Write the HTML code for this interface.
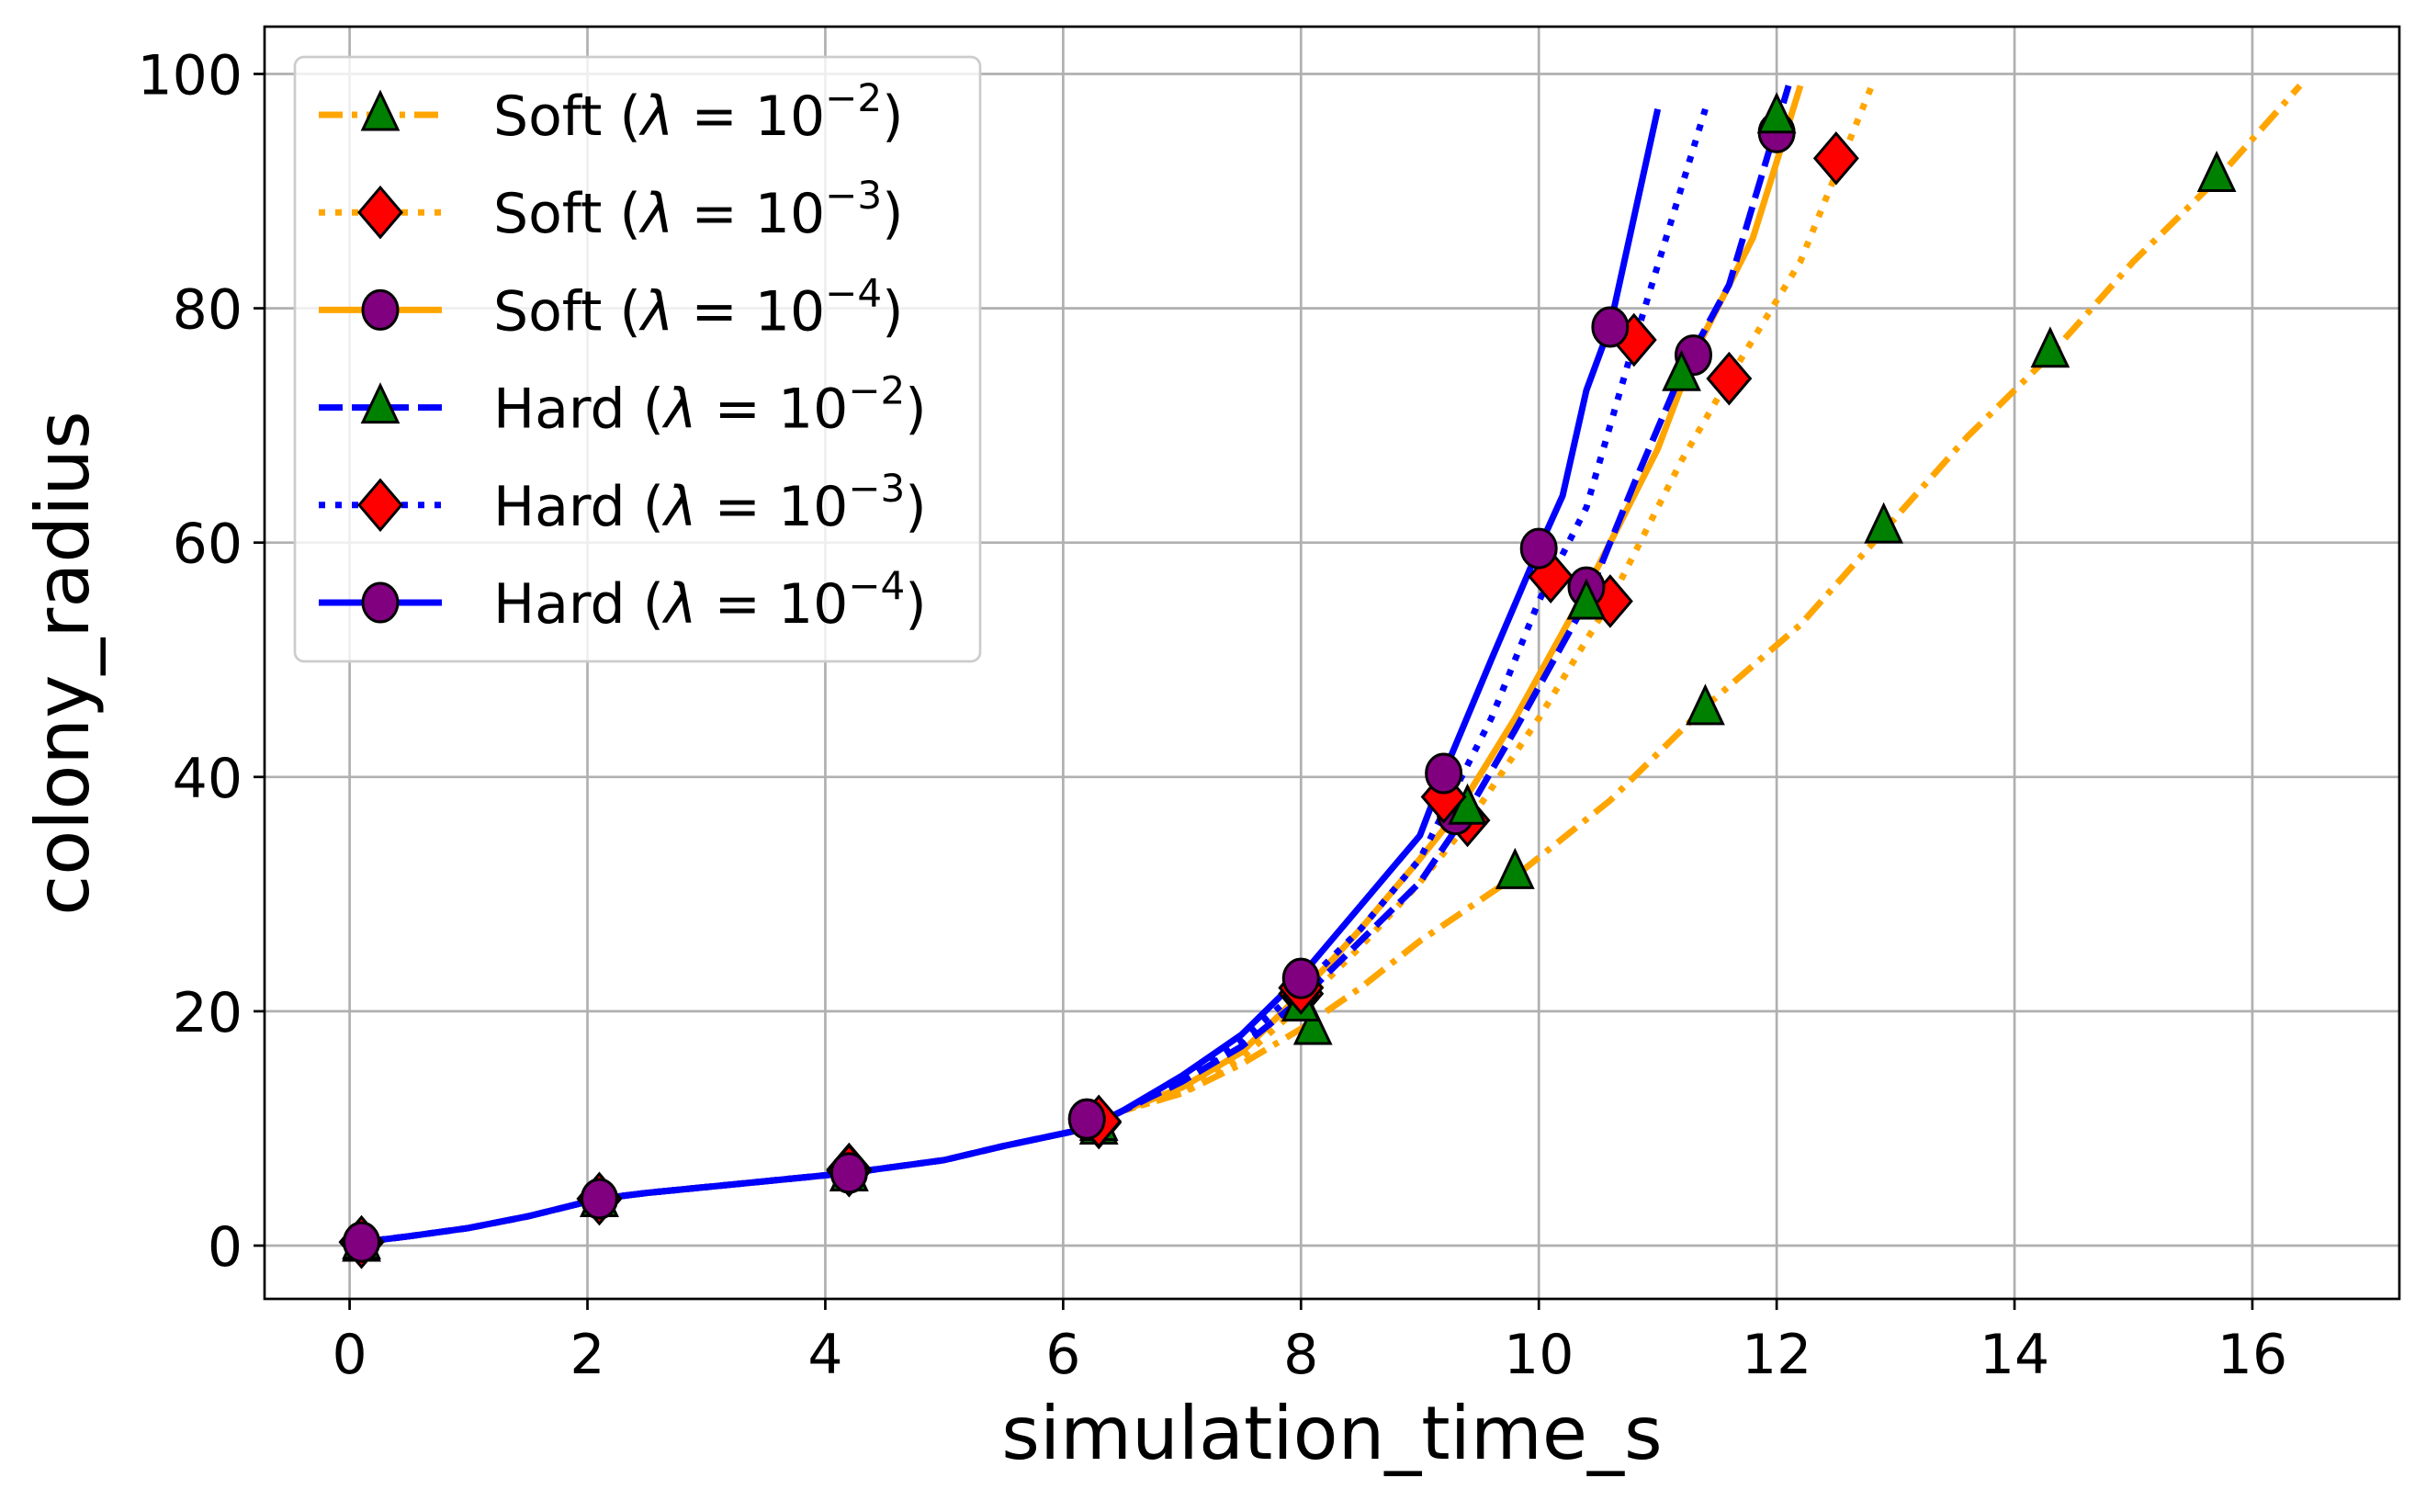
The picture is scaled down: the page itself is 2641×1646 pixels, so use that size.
<!DOCTYPE html>
<html><head><meta charset="utf-8"><style>
html,body{margin:0;padding:0;background:#fff}
svg text{font-family:"DejaVu Sans","Liberation Sans",sans-serif;fill:#000}
</style></head><body>
<svg id="chart" width="2641" height="1641" viewBox="0 0 2641 1641" xmlns="http://www.w3.org/2000/svg">
<rect x="0" y="0" width="2641" height="1641" fill="#fff"/>
<g id="grid"></g>
<g id="series"></g>
<g id="axes"></g>
<g id="legend"></g>
</svg>
<script>
const xTicks = [0,2,4,6,8,10,12,14,16];
const yTicks = [0,20,40,60,80,100];
const seriesNames = ["Soft-2","Soft-3","Soft-4","Hard-2","Hard-3","Hard-4"];
const early = [[0.1,0.3],[0.5,0.8],[1,1.5],[1.5,2.5],[2.1,4],[2.5,4.5],[3,5],[3.5,5.5],[4.2,6.2],[5,7.3],[5.5,8.5],[6.2,10],[6.5,11.5]];
const soft2Line = [[7,13],[7.5,15.5],[8,18.5],[8.5,22],[9,26],[9.8,31.5],[10.6,38],[11.4,46],[12.2,53],[12.9,61],[13.6,69],[14.3,76],[15,84],[15.7,91],[16.4,99]];
const soft3Line = [[7,13],[7.5,16],[8,20.5],[8.5,25.5],[9,31],[9.4,36],[10,45],[10.6,55],[11.2,67],[11.6,74],[12.2,84],[12.8,99]];
const soft4Line = [[7,13.5],[7.5,16.5],[8,21.5],[8.5,27],[9,33],[9.3,36.8],[9.8,45],[10.4,56],[11,68],[11.3,76],[11.8,86],[12.2,99]];
const hard2Line = [[7,14],[7.5,17],[8,21],[8.5,26],[9,31],[9.4,37],[9.8,44],[10.4,55],[10.8,65],[11.2,74.5],[11.6,82],[12.1,99]];
const hard3Line = [[7,14],[7.5,17.5],[8,22],[8.5,27],[9,33],[9.2,37],[9.6,45],[10,55],[10.4,63],[10.8,77],[11.4,97]];
const hard4Line = [[7,14.5],[7.5,18],[8,23],[8.5,29],[9,35],[9.2,40.3],[9.6,50],[10,59.5],[10.2,64],[10.4,73],[10.6,78.5],[11,97]];
const soft2Marks = [[0.1,0],[2.1,3.8],[4.2,6],[6.3,10],[8.1,18.5],[9.8,31.8],[11.4,45.8],[12.9,61.3],[14.3,76.3],[15.7,91.3]];
const soft3Marks = [[0.1,0.3],[2.1,4],[4.2,6.5],[6.3,10.5],[8,21.5],[9.4,36.3],[10.6,55],[11.6,74],[12.5,92.8]];
const soft4Marks = [[0.1,0.3],[2.1,4],[4.2,6.2],[6.2,10.8],[8,22],[9.3,36.8],[10.4,56.2],[11.3,76],[12,95]];
const hard2Marks = [[0.1,0.2],[2.1,3.8],[4.2,6],[6.3,10.3],[8,20.5],[9.4,37.3],[10.4,54.8],[11.2,74.3],[12,96.3]];
const hard3Marks = [[0.1,0.3],[2.1,4],[4.2,6.4],[6.3,10.6],[8,22],[9.2,38.3],[10.1,57.1],[10.8,77.3]];
const hard4Marks = [[0.1,0.3],[2.1,4],[4.2,6.2],[6.2,10.8],[8,22.8],[9.2,40.3],[10,59.5],[10.6,78.4]];

const NS="http://www.w3.org/2000/svg";
const L=288,R=2612,T=29,B=1414;
const X=v=>380.6+v*129.46;
const Y=v=>1356-v*12.755;
function mk(tag,attrs,parent){const e=document.createElementNS(NS,tag);for(const k in attrs)e.setAttribute(k,attrs[k]);parent.appendChild(e);return e;}
const grid=document.getElementById('grid'),axes=document.getElementById('axes'),ser=document.getElementById('series'),leg=document.getElementById('legend');

xTicks.forEach(t=>{
  const g=mk('line',{x1:X(t),x2:X(t),y1:T,y2:B,stroke:'#b0b0b0','stroke-width':2.7},grid);
  
  
  const tk=mk('line',{x1:X(t),x2:X(t),y1:B,y2:B+12,stroke:'#000','stroke-width':2.7},axes);
  
  
  const tx=mk('text',{x:X(t),y:1495,'font-size':60,'text-anchor':'middle'},axes);
  tx.textContent=t;
  
  
});
yTicks.forEach(t=>{
  const g=mk('line',{x1:L,x2:R,y1:Y(t),y2:Y(t),stroke:'#b0b0b0','stroke-width':2.7},grid);
  
  
  const tk=mk('line',{x1:L-12,x2:L,y1:Y(t),y2:Y(t),stroke:'#000','stroke-width':2.7},axes);
  
  
  const tx=mk('text',{x:264,y:Y(t)+22,'font-size':60,'text-anchor':'end'},axes);
  tx.textContent=t;
  
  
});
const fr=mk('rect',{x:L,y:T,width:R-L,height:B-T,fill:'none',stroke:'#000','stroke-width':2.7},axes);


const xl=mk('text',{x:(L+R)/2,y:1588,'font-size':80,'text-anchor':'middle'},axes);
xl.textContent='simulation_time_s';


const yl=mk('text',{x:0,y:0,'font-size':80,'text-anchor':'middle',transform:'translate(96,722) rotate(-90)'},axes);
yl.textContent='colony_radius';



const styles={
 'Soft-2':{c:'orange',d:'26,10,6,10',m:'tri'},
 'Soft-3':{c:'orange',d:'7,11',m:'dia'},
 'Soft-4':{c:'orange',d:'',m:'cir'},
 'Hard-2':{c:'blue',d:'26,10',m:'tri'},
 'Hard-3':{c:'blue',d:'7,11',m:'dia'},
 'Hard-4':{c:'blue',d:'',m:'cir'}
};
const lines={'Soft-2':soft2Line,'Soft-3':soft3Line,'Soft-4':soft4Line,'Hard-2':hard2Line,'Hard-3':hard3Line,'Hard-4':hard4Line};
const marks={'Soft-2':soft2Marks,'Soft-3':soft3Marks,'Soft-4':soft4Marks,'Hard-2':hard2Marks,'Hard-3':hard3Marks,'Hard-4':hard4Marks};
function marker(type,cx,cy,parent){
  let e;
  if(type==='tri') e=mk('polygon',{points:`${cx},${cy-24} ${cx-19},${cy+16} ${cx+19},${cy+16}`,fill:'green',stroke:'#000','stroke-width':3},parent);
  else if(type==='dia') e=mk('polygon',{points:`${cx},${cy-27} ${cx+23},${cy} ${cx},${cy+27} ${cx-23},${cy}`,fill:'red',stroke:'#000','stroke-width':3},parent);
  else e=mk('ellipse',{cx:cx,cy:cy,rx:19,ry:21,fill:'purple',stroke:'#000','stroke-width':3},parent);
  return e;
}
const order=['Soft-2','Soft-3','Soft-4','Hard-2','Hard-3','Hard-4'];
order.forEach(n=>{
  const s=styles[n];
  const pts=early.concat(lines[n]).map(p=>X(p[0])+','+Y(p[1])).join(' ');
  const pl=mk('polyline',{points:pts,fill:'none',stroke:s.c,'stroke-width':7,'stroke-dasharray':s.d,'stroke-linejoin':'round'},ser);
  
  
});
order.forEach(n=>{
  const s=styles[n];
  marks[n].forEach(p=>{
    const m=marker(s.m,X(p[0]),Y(p[1]),ser);
    
    
  });
});

const lb=mk('rect',{x:321,y:62,width:746,height:658,rx:10,fill:'#fff','fill-opacity':0.8,stroke:'#cccccc','stroke-width':2.7},leg);


const labels=[['Soft','2'],['Soft','3'],['Soft','4'],['Hard','2'],['Hard','3'],['Hard','4']];
order.forEach((n,i)=>{
  const s=styles[n];const cy=125+i*106.2;
  const g=mk('g',{},leg);
  
  
  mk('line',{x1:347,x2:481,y1:cy,y2:cy,stroke:s.c,'stroke-width':7,'stroke-dasharray':s.d},g);
  marker(s.m,414,cy,g);
  const t=mk('text',{x:537,y:cy+22,'font-size':60},g);
  t.innerHTML=labels[i][0]+' (<tspan font-style="italic">λ</tspan> = 10<tspan font-size="42" dy="-26">−'+labels[i][1]+'</tspan><tspan dy="26">)</tspan>';
});
</script>
</body></html>
